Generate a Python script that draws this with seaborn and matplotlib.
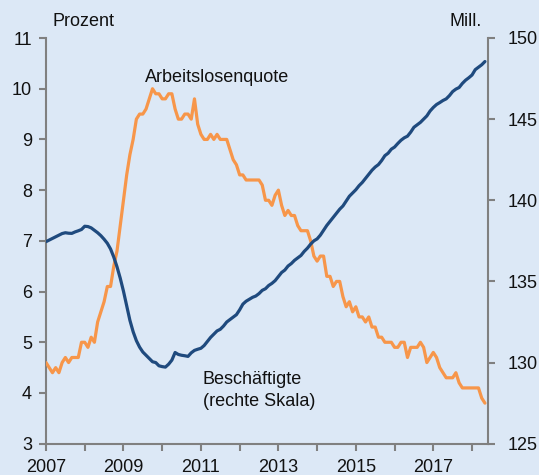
import numpy as np
import pandas as pd
import matplotlib
matplotlib.use("Agg")
import matplotlib.pyplot as plt
import seaborn as sns

# Monthly data, Jan 2007 - May 2018
start_year = 2007
arbeitslosenquote = [
    4.6, 4.5, 4.4, 4.5, 4.4, 4.6, 4.7, 4.6, 4.7, 4.7, 4.7, 5.0,   # 2007
    5.0, 4.9, 5.1, 5.0, 5.4, 5.6, 5.8, 6.1, 6.1, 6.5, 6.8, 7.3,   # 2008
    7.8, 8.3, 8.7, 9.0, 9.4, 9.5, 9.5, 9.6, 9.8, 10.0, 9.9, 9.9,  # 2009
    9.8, 9.8, 9.9, 9.9, 9.6, 9.4, 9.4, 9.5, 9.5, 9.4, 9.8, 9.3,   # 2010
    9.1, 9.0, 9.0, 9.1, 9.0, 9.1, 9.0, 9.0, 9.0, 8.8, 8.6, 8.5,   # 2011
    8.3, 8.3, 8.2, 8.2, 8.2, 8.2, 8.2, 8.1, 7.8, 7.8, 7.7, 7.9,   # 2012
    8.0, 7.7, 7.5, 7.6, 7.5, 7.5, 7.3, 7.2, 7.2, 7.2, 7.0, 6.7,   # 2013
    6.6, 6.7, 6.7, 6.3, 6.3, 6.1, 6.2, 6.2, 5.9, 5.7, 5.8, 5.6,   # 2014
    5.7, 5.5, 5.5, 5.4, 5.5, 5.3, 5.3, 5.1, 5.1, 5.0, 5.0, 5.0,   # 2015
    4.9, 4.9, 5.0, 5.0, 4.7, 4.9, 4.9, 4.9, 5.0, 4.9, 4.6, 4.7,   # 2016
    4.8, 4.7, 4.5, 4.4, 4.3, 4.3, 4.3, 4.4, 4.2, 4.1, 4.1, 4.1,   # 2017
    4.1, 4.1, 4.1, 3.9, 3.8,                                       # 2018
]
beschaeftigte = [
    137.45, 137.55, 137.65, 137.75, 137.85, 137.95, 138.0, 137.97, 137.96, 138.05, 138.12, 138.2,  # 2007
    138.4, 138.38, 138.3, 138.15, 138.0, 137.82, 137.6, 137.35, 137.0, 136.5, 135.9, 135.2,        # 2008
    134.4, 133.5, 132.6, 131.9, 131.35, 130.95, 130.65, 130.45, 130.25, 130.05, 130.0, 129.8,      # 2009
    129.75, 129.72, 129.9, 130.15, 130.62, 130.5, 130.45, 130.42, 130.38, 130.6, 130.75, 130.82,   # 2010
    130.88, 131.05, 131.3, 131.55, 131.75, 131.95, 132.05, 132.25, 132.5, 132.65, 132.8, 132.95,   # 2011
    133.25, 133.6, 133.78, 133.9, 134.02, 134.1, 134.25, 134.45, 134.55, 134.75, 134.88, 135.05,   # 2012
    135.3, 135.55, 135.7, 135.95, 136.1, 136.3, 136.45, 136.6, 136.85, 137.05, 137.3, 137.5,       # 2013
    137.62, 137.85, 138.15, 138.45, 138.7, 138.95, 139.2, 139.45, 139.65, 139.95, 140.25, 140.45,  # 2014
    140.65, 140.9, 141.1, 141.35, 141.6, 141.85, 142.05, 142.2, 142.45, 142.75, 142.9, 143.15,     # 2015
    143.28, 143.5, 143.7, 143.85, 143.95, 144.2, 144.5, 144.65, 144.8, 145.0, 145.2, 145.5,        # 2016
    145.72, 145.9, 146.02, 146.15, 146.25, 146.45, 146.7, 146.85, 146.95, 147.2, 147.4, 147.55,    # 2017
    147.72, 148.05, 148.2, 148.35, 148.55,                                                         # 2018
]
year_ticks = list(range(2007, 2019))
year_labels = [str(y) if (y - 2007) % 2 == 0 else "" for y in year_ticks]
left_ticks = [3, 4, 5, 6, 7, 8, 9, 10, 11]
right_ticks = [125, 130, 135, 140, 145, 150]

dates = pd.date_range(f"{start_year}-01-01", periods=len(arbeitslosenquote), freq="MS")
df = pd.DataFrame({
    "t": dates.year + (dates.month - 1) / 12.0,
    "quote": arbeitslosenquote,
    "besch": beschaeftigte,
})

BG = "#DCE8F6"
ORANGE = "#F7964A"
BLUE = "#1F4A7E"
GRAY = "#808080"

sns.set_style("white")
plt.rcParams["font.family"] = ["Liberation Sans", "DejaVu Sans"]

W, H = 539, 475
fig = plt.figure(figsize=(W / 100, H / 100), dpi=100)
fig.patch.set_facecolor(BG)
x0, x1, ytop, ybot = 46, 488, 38, 443.7
ax = fig.add_axes([x0 / W, (H - ybot) / H, (x1 - x0) / W, (ybot - ytop) / H])
ax.set_facecolor(BG)
ax2 = ax.twinx()

sns.lineplot(data=df, x="t", y="quote", ax=ax, color=ORANGE, linewidth=2.3, zorder=3)
sns.lineplot(data=df, x="t", y="besch", ax=ax2, color=BLUE, linewidth=2.3, zorder=3)

ax.set_xlim(2007, 2007 + (x1 - x0) / 38.73)
ax.set_ylim(3, 11)
ax2.set_ylim(125, 150)
ax.set_xticks(year_ticks)
ax.set_xticklabels(year_labels)
ax.set_yticks(left_ticks)
ax2.set_yticks(right_ticks)
ax.set_xlabel("")
ax.set_ylabel("")
ax2.set_ylabel("")

for a in (ax, ax2):
    a.spines["top"].set_visible(False)
    for s in ("left", "right", "bottom"):
        a.spines[s].set_color(GRAY)
        a.spines[s].set_linewidth(1.5)
ax.spines["right"].set_visible(False)
ax2.spines["left"].set_visible(False)
ax2.spines["bottom"].set_visible(False)

ax.tick_params(axis="x", direction="out", length=5, width=1.5, color=GRAY,
               labelsize=13, labelcolor="#111111", pad=6, bottom=True)
ax.tick_params(axis="y", direction="out", length=5, width=1.5, color=GRAY,
               labelsize=13, labelcolor="#111111", pad=5, left=True)
ax2.tick_params(axis="y", direction="out", length=5, width=1.5, color=GRAY,
                labelsize=13, labelcolor="#111111", pad=9, right=True)

fig.text(53 / W, 1 - 22 / H, "Prozent", fontsize=13, ha="left", va="center", color="#111111")
fig.text(482 / W, 1 - 22 / H, "Mill.", fontsize=13, ha="right", va="center", color="#111111")
fig.text(145 / W, 1 - 77 / H, "Arbeitslosenquote", fontsize=13, ha="left", va="center", color="#111111")
fig.text(203 / W, 1 - 380 / H, "Beschäftigte", fontsize=13, ha="left", va="center", color="#111111")
fig.text(203 / W, 1 - 401 / H, "(rechte Skala)", fontsize=13, ha="left", va="center", color="#111111")

fig.savefig("out.png", dpi=100, facecolor=BG)
